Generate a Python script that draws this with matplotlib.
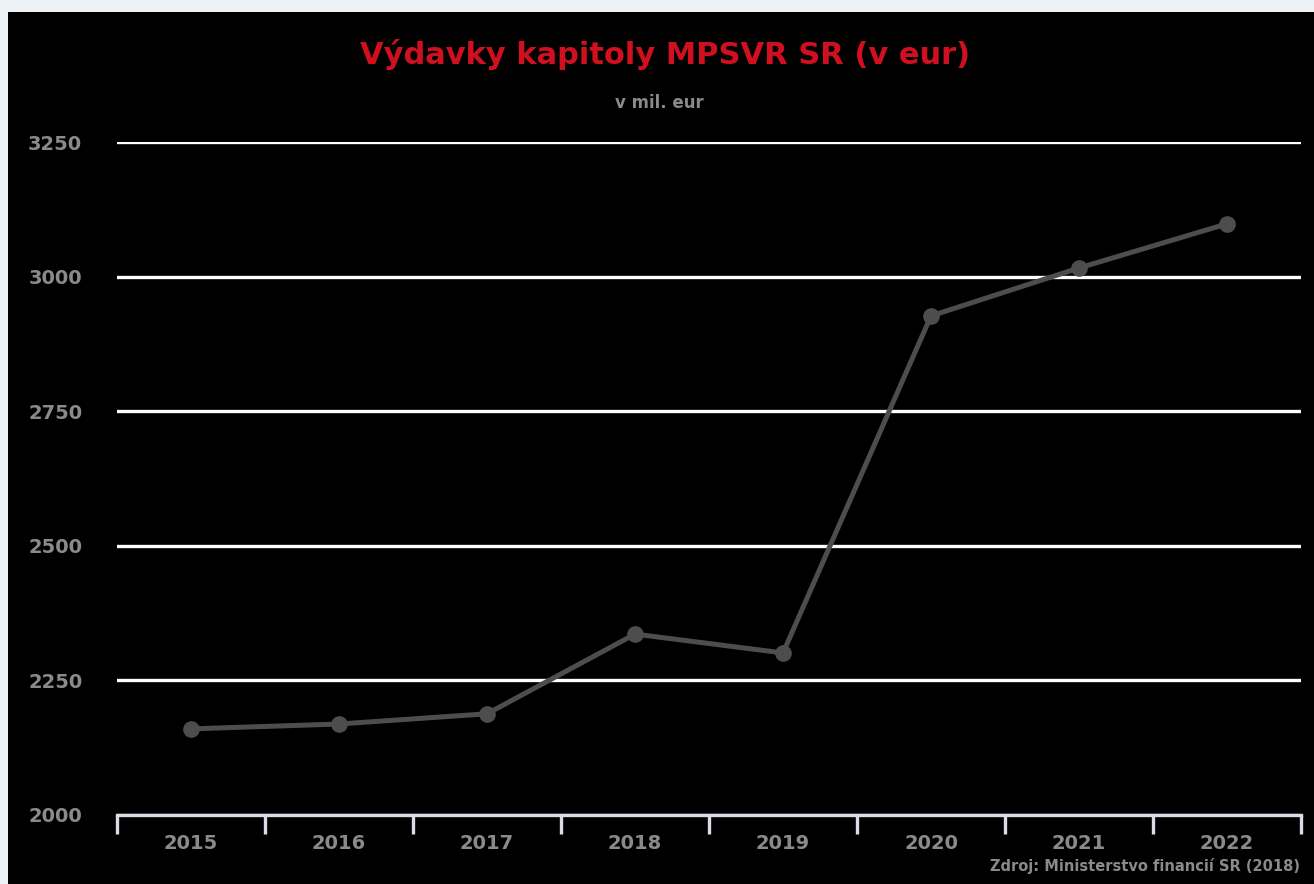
import matplotlib.pyplot as plt
from matplotlib.patches import Rectangle

# values in mil. eur
years = ["2015", "2016", "2017", "2018", "2019", "2020", "2021", "2022"]
spending = [2160, 2169, 2188, 2336, 2301, 2927, 3016, 3098]
yticks = [2000, 2250, 2500, 2750, 3000, 3250]

W, H = 1314, 884
fig = plt.figure(figsize=(W / 100, H / 100), dpi=100, facecolor="#edf2f7")

# black canvas inside the light frame
fig.patches.append(Rectangle((8 / W, 0), 1 - 8 / W, 1 - 12 / H,
                             transform=fig.transFigure, facecolor="black",
                             edgecolor="none", zorder=-5))

ax = fig.add_axes([117 / W, (H - 815) / H, (1301 - 117) / W, (815 - 142) / H])
ax.set_zorder(2)
ax.set_facecolor("black")

x = list(range(len(years)))
ax.plot(x, spending, color="#4d4d4d", linewidth=3.6, marker="o",
        markersize=11, zorder=3)

ax.set_xlim(-0.5, len(years) - 0.5)
ax.set_ylim(2000, 3250)
ax.set_yticks(yticks)
ax.set_yticklabels([str(v) for v in yticks])
ax.set_xticks(x)
ax.set_xticklabels(years)
ax.set_xticks([i - 0.5 for i in range(len(years) + 1)], minor=True)

ax.grid(axis="y", color="white", linewidth=2.4, zorder=1)
ax.set_axisbelow(True)

for side in ["top", "right", "left"]:
    ax.spines[side].set_visible(False)
ax.spines["bottom"].set_color("#dcdce8")
ax.spines["bottom"].set_linewidth(2.4)
ax.spines["bottom"].set_zorder(4)

ax.tick_params(axis="x", which="major", length=0, pad=14,
               labelsize=14, labelcolor="#8a8a8a")
ax.tick_params(axis="x", which="minor", length=14, width=2.4,
               color="#dcdce8", direction="out")
ax.tick_params(axis="y", length=0, pad=25, labelsize=14, labelcolor="#8a8a8a")
for lbl in ax.get_xticklabels() + ax.get_yticklabels():
    lbl.set_fontweight("bold")

fig.text(0.506, 1 - 55 / H, "Výdavky kapitoly MPSVR SR (v eur)",
         color="#d0101e", fontsize=22, fontweight="bold",
         ha="center", va="center")
fig.text(0.502, 1 - 103 / H, "v mil. eur", color="#8a8a8a", fontsize=12,
         fontweight="bold", ha="center", va="center")
fig.text(1300 / W, 1 - 866 / H, "Zdroj: Ministerstvo financií SR (2018)",
         color="#8a8a8a", fontsize=10.5, fontweight="bold",
         ha="right", va="center")

fig.savefig("out.png", dpi=100, facecolor=fig.get_facecolor())
